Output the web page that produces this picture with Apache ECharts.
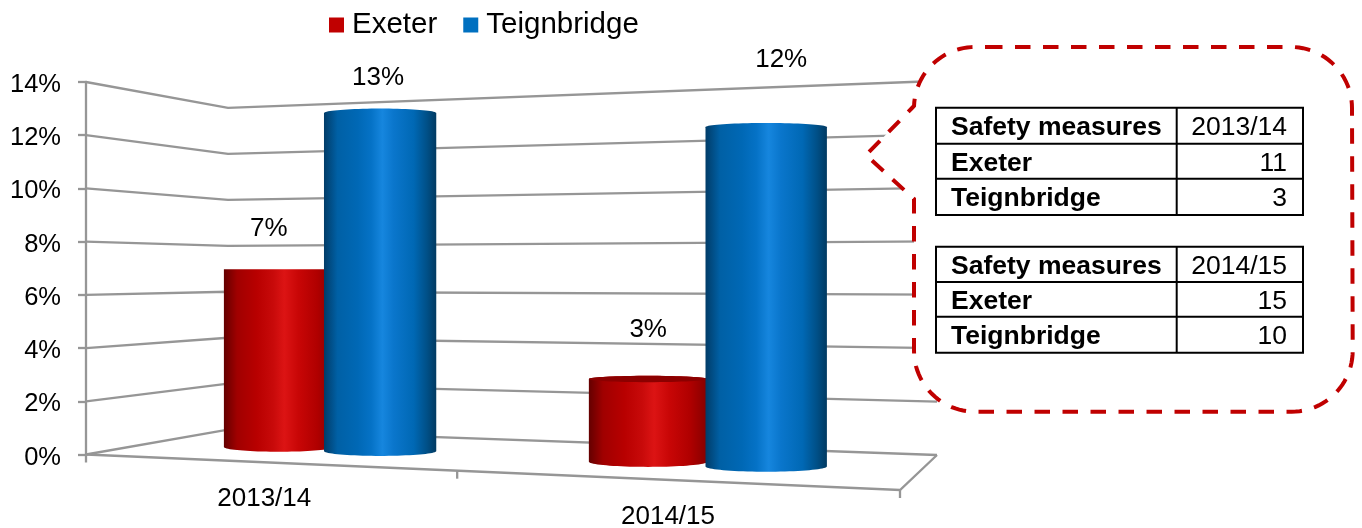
<!DOCTYPE html>
<html>
<head>
<meta charset="utf-8">
<script src="https://cdn.jsdelivr.net/npm/echarts@6/dist/echarts.min.js"></script>
<style>
html, body { margin: 0; padding: 0; background: #fff; }
#chart { width: 1362px; height: 528px; }
</style>
</head>
<body>
<div id="chart"></div>
<script>
var categories = ['2013/14', '2014/15'];
var exeterValues = [7, 3];
var teignbridgeValues = [13, 12];
var yTicks = [0, 2, 4, 6, 8, 10, 12, 14];
var tableHeader = 'Safety measures';
var tableNames = ['Exeter', 'Teignbridge'];
var tableExeter = [11, 15];
var tableTeignbridge = [3, 10];

var FONT = '"Liberation Sans", Arial, sans-serif';
var GRID = { left: 86, right: 462, top: 82, bottom: 73.5 };
var gridW = 1362 - GRID.left - GRID.right;
var GREY = '#969696';
var TEXT_DY = 2;

// floor corners of the fake 3d box, and how much the height shrinks at each
var F0 = [86, 454.5], F1 = [900, 490], B0 = [228, 429.7], B1 = [937, 455];
var S_F0 = 1, S_F1 = 1.2, S_B0 = 0.864, S_B1 = 1.004;

function mix(a, b, c, d, u, k) {
    return a * (1 - u) * (1 - k) + b * u * (1 - k) + c * (1 - u) * k + d * u * k;
}
function project(u, k, h) {
    var x = mix(F0[0], F1[0], B0[0], B1[0], u, k);
    var y = mix(F0[1], F1[1], B0[1], B1[1], u, k);
    return [x, y - h * mix(S_F0, S_F1, S_B0, S_B1, u, k)];
}

// gridlines, floor
function renderWalls(params, api) {
    var v = api.value(1);
    var h = api.coord([0, 0])[1] - api.coord([0, v])[1];
    var line = { stroke: GREY, lineWidth: 2.3, fill: null };
    var kids = [{
        type: 'polyline',
        shape: { points: [project(0, 0, h), project(0, 1, h), project(1, 1, h)] },
        style: line
    }];
    if (v === 0) {
        kids.push({ type: 'polyline', shape: { points: [F0, F1, B1] }, style: line });
        [0, 0.456, 1].forEach(function (u) {
            var p = project(u, 0, 0);
            kids.push({ type: 'line', shape: { x1: p[0], y1: p[1], x2: p[0], y2: p[1] + 8 }, style: line });
        });
    }
    return { type: 'group', children: kids };
}

var RED = [[0, '#640000'], [0.12, '#a00000'], [0.3, '#b80000'], [0.45, '#c80a0a'], [0.55, '#dc1414'], [0.68, '#c80606'], [0.85, '#b00000'], [1, '#850000']];
var BLUE = [[0, '#013c68'], [0.12, '#0060a5'], [0.3, '#0068b5'], [0.42, '#0572c6'], [0.52, '#1686de'], [0.62, '#0a76cc'], [0.8, '#0068b4'], [0.92, '#004f86'], [1, '#013a62']];

function gradient(stops) {
    return {
        type: 'linear', x: 0, y: 0, x2: 1, y2: 0,
        colorStops: stops.map(function (s) { return { offset: s[0], color: s[1] }; })
    };
}

function makeRenderer(shifts, labelShifts, stops, capColor) {
    return function (params, api) {
        var cat = api.value(0), v = api.value(1);
        var base = api.coord([cat, 0]), top = api.coord([cat, v]);
        var u = (base[0] - GRID.left) / gridW + shifts[cat];
        var bottom = project(u, 0.5, 0);
        var upper = project(u, 0.5, (base[1] - top[1]) * 0.995);
        var r = 53.5 + 9 * u;
        var horizon = 270;
        var ryTop = Math.abs(upper[1] - horizon) * 0.029;
        var ryBottom = (bottom[1] - horizon) * 0.027;
        var pts = [], i, a;
        for (i = 0; i <= 40; i++) {
            a = Math.PI * i / 40;
            pts.push([upper[0] - r * Math.cos(a), upper[1] - ryTop * Math.sin(a)]);
        }
        for (i = 0; i <= 40; i++) {
            a = Math.PI * i / 40;
            pts.push([bottom[0] + r * Math.cos(a), bottom[1] + ryBottom * Math.sin(a)]);
        }
        var kids = [{ type: 'polygon', shape: { points: pts }, style: { fill: gradient(stops) } }];
        if (upper[1] > horizon + 40) {
            kids.push({
                type: 'ellipse',
                shape: { cx: upper[0], cy: upper[1], rx: r, ry: ryTop },
                style: { fill: capColor }
            });
        }
        kids.push({
            type: 'text',
            style: {
                text: v + '%',
                x: upper[0] + labelShifts[cat][0],
                y: upper[1] + labelShifts[cat][1] + TEXT_DY,
                fill: '#000',
                font: '26px ' + FONT,
                textAlign: 'center',
                textVerticalAlign: 'middle'
            }
        });
        return { type: 'group', children: kids };
    };
}

function renderCategory(params, api) {
    var cat = api.value(0);
    var u = (api.coord([cat, 0])[0] - GRID.left) / gridW + [-0.031, -0.035][cat];
    var p = project(u, 0, 0);
    return {
        type: 'text',
        style: {
            text: categories[cat],
            x: p[0], y: p[1] + 35 + TEXT_DY,
            fill: '#000',
            font: '26px ' + FONT,
            textAlign: 'center',
            textVerticalAlign: 'middle'
        }
    };
}

function pairs(values) {
    return values.map(function (v, i) { return [i, v]; });
}

// callout + the two small tables
function tableGraphics(top, rowLines, bottom, year, exeter, teign) {
    var L = 936, M = 1176.7, R = 1303;
    var out = [];
    var border = { stroke: '#000', lineWidth: 2, fill: null };
    out.push({ type: 'rect', z: 21, shape: { x: L, y: top, width: R - L, height: bottom - top }, style: border });
    out.push({ type: 'line', z: 21, shape: { x1: M, y1: top, x2: M, y2: bottom }, style: border });
    rowLines.forEach(function (y) {
        out.push({ type: 'line', z: 21, shape: { x1: L, y1: y, x2: R, y2: y }, style: border });
    });
    var ys = [(top + rowLines[0]) / 2, (rowLines[0] + rowLines[1]) / 2, (rowLines[1] + bottom) / 2];
    var names = [tableHeader].concat(tableNames);
    var vals = [year, String(exeter), String(teign)];
    ys.forEach(function (y, i) {
        out.push({
            type: 'text', z: 22,
            style: { text: names[i], x: 951, y: y + TEXT_DY, fill: '#000', font: 'bold 26.5px ' + FONT, textAlign: 'left', textVerticalAlign: 'middle' }
        });
        out.push({
            type: 'text', z: 22,
            style: { text: vals[i], x: 1287, y: y + TEXT_DY, fill: '#000', font: '26.5px ' + FONT, textAlign: 'right', textVerticalAlign: 'middle' }
        });
    });
    return out;
}

function corner(pts, cx, cy, r, from, to) {
    for (var i = 0; i <= 24; i++) {
        var a = (from + (to - from) * i / 24) * Math.PI / 180;
        pts.push([cx + r * Math.cos(a), cy + r * Math.sin(a)]);
    }
}
var calloutPts = [[987, 47]];
corner(calloutPts, 1291, 108, 61, -90, 0);
corner(calloutPts, 1291.7, 350.7, 61, 0, 90);
corner(calloutPts, 975, 350.7, 61, 90, 180);
calloutPts.push([914, 199], [866, 155], [912, 108]);
corner(calloutPts, 975, 108, 61, 182, 270);

var graphics = [{
    type: 'polygon',
    z: 20,
    shape: { points: calloutPts },
    style: { fill: '#fff', stroke: '#c00000', lineWidth: 4, lineDash: [15.5, 12.5] }
}].concat(
    tableGraphics(107.7, [143.7, 178.7], 215, categories[0], tableExeter[0], tableTeignbridge[0]),
    tableGraphics(246.7, [282, 316.7], 352.7, categories[1], tableExeter[1], tableTeignbridge[1])
);

var myChart = echarts.init(document.getElementById('chart'));
var option = {
    animation: false,
    backgroundColor: '#fff',
    textStyle: { fontFamily: FONT },
    grid: { left: GRID.left, right: GRID.right, top: GRID.top, bottom: GRID.bottom, containLabel: false },
    legend: {
        left: 324, top: 5,
        itemWidth: 15, itemHeight: 15, itemGap: 26,
        icon: 'rect',
        data: ['Exeter', 'Teignbridge'],
        textStyle: { fontSize: 29.5, color: '#000', fontFamily: FONT, padding: [0, 0, 0, 3] }
    },
    xAxis: {
        type: 'category',
        data: categories,
        axisLine: { show: false },
        axisTick: { show: false },
        axisLabel: { show: false }
    },
    yAxis: {
        type: 'value',
        min: 0, max: 14, interval: 2,
        axisLine: { show: true, lineStyle: { color: GREY, width: 2.3 } },
        axisTick: { show: true, length: 8, lineStyle: { color: GREY, width: 2.3 } },
        splitLine: { show: false },
        axisLabel: { formatter: '{value}%', fontSize: 25.5, color: '#000', margin: 25, fontFamily: FONT, verticalAlign: 'top', lineHeight: 6 }
    },
    graphic: graphics,
    series: [
        { type: 'custom', name: 'walls', z: 1, silent: true, data: yTicks.map(function (v) { return [0, v]; }), renderItem: renderWalls },
        { type: 'custom', name: 'cats', z: 1, silent: true, data: categories.map(function (c, i) { return [i, 0]; }), renderItem: renderCategory },
        {
            type: 'custom', name: 'Exeter', z: 3,
            itemStyle: { color: '#c00000' },
            data: pairs(exeterValues),
            renderItem: makeRenderer([-0.09, -0.105], [[-10, -42], [0, -51]], RED, '#8c0000')
        },
        {
            type: 'custom', name: 'Teignbridge', z: 4,
            itemStyle: { color: '#0070c0' },
            data: pairs(teignbridgeValues),
            renderItem: makeRenderer([0.043, 0.05], [[-2, -37], [15, -69]], BLUE, '#013c68')
        }
    ]
};
myChart.setOption(option);
window.addEventListener('resize', function () { myChart.resize(); });
</script>
</body>
</html>
